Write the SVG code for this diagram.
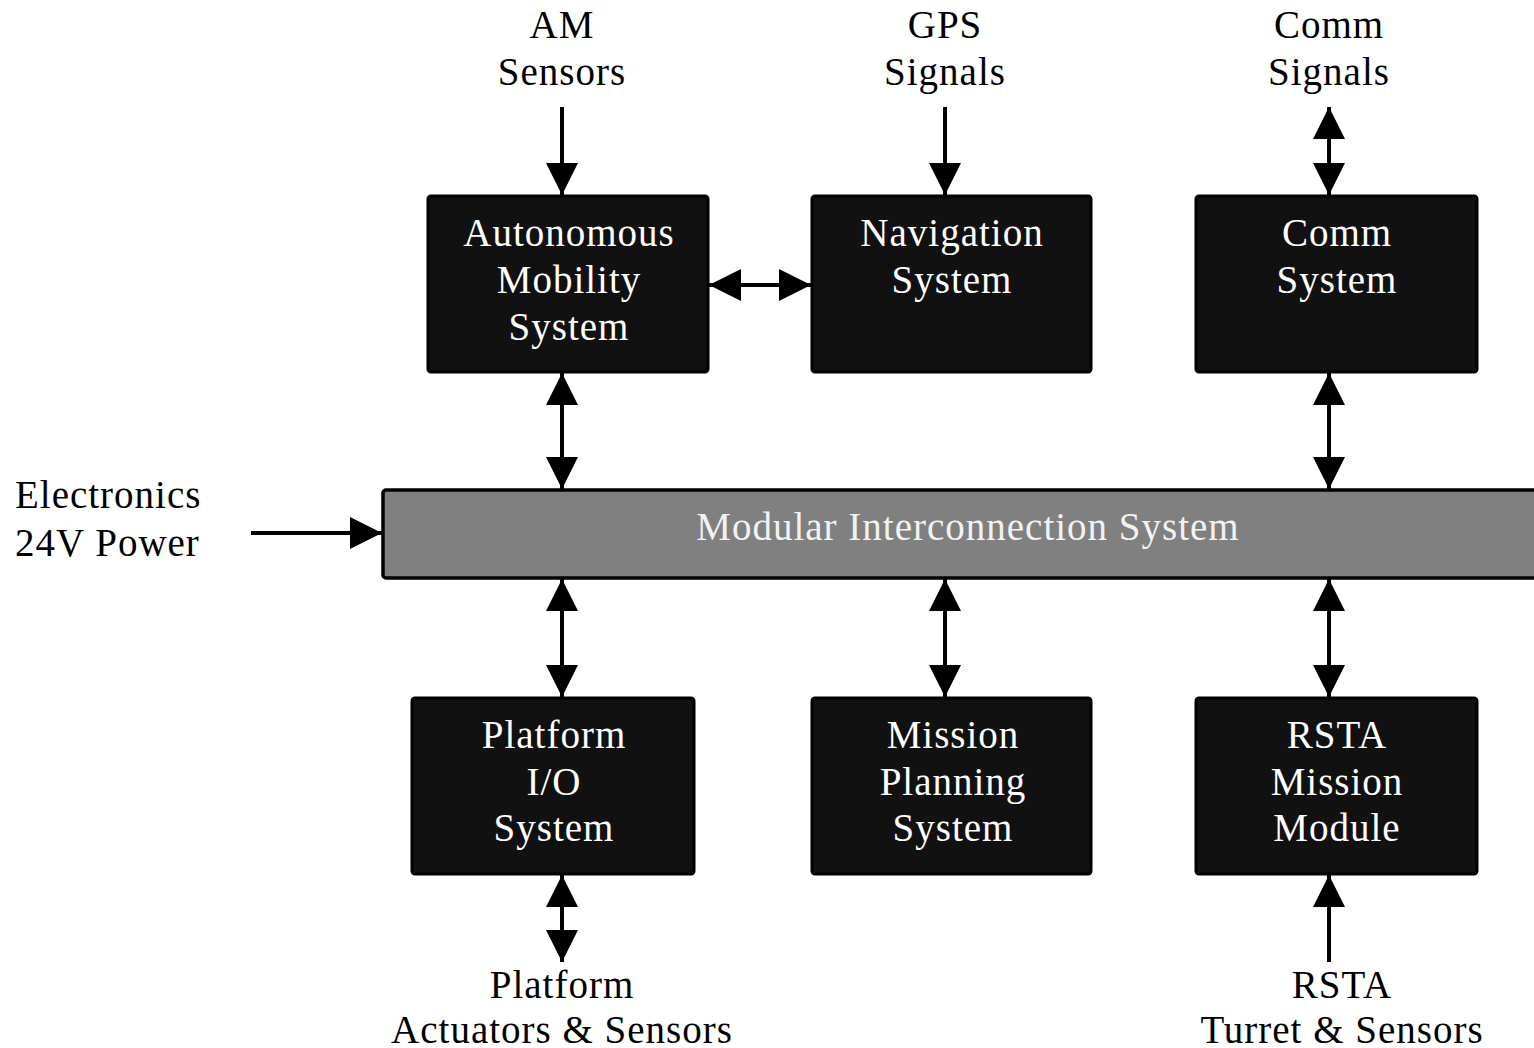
<svg xmlns="http://www.w3.org/2000/svg" width="1534" height="1048" viewBox="0 0 1534 1048">
<defs>
<marker id="ah" viewBox="0 0 32 32" markerWidth="32" markerHeight="32" markerUnits="userSpaceOnUse" refX="32" refY="16" orient="auto-start-reverse">
<path d="M0,0 L32,16 L0,32 z" fill="#000"/>
</marker>
<style>
.box{fill:#111;stroke:#000;stroke-width:3}
.bus{fill:#808080;stroke:#000;stroke-width:3.5}
.bt{font-family:"Liberation Serif","Times New Roman",serif;font-size:39px;letter-spacing:1px;fill:#fff;text-anchor:middle}
.lt{font-family:"Liberation Serif","Times New Roman",serif;font-size:39px;letter-spacing:1px;fill:#000;text-anchor:middle}
.ll{font-family:"Liberation Serif","Times New Roman",serif;font-size:39px;letter-spacing:1px;fill:#000}
.c{stroke:#000;stroke-width:4;fill:none}
.one{marker-end:url(#ah)}
.two{marker-start:url(#ah);marker-end:url(#ah)}
</style>
</defs>
<rect width="1534" height="1048" fill="#fff"/>

<g id="am-sensors"><text class="lt" x="562" y="38">AM</text><text class="lt" x="562" y="85">Sensors</text></g>
<g id="gps-signals"><text class="lt" x="945" y="38">GPS</text><text class="lt" x="945" y="85">Signals</text></g>
<g id="comm-signals"><text class="lt" x="1329" y="38">Comm</text><text class="lt" x="1329" y="85">Signals</text></g>

<g id="autonomous-mobility"><rect class="box" x="428" y="196" width="280" height="176" rx="3"/>
<text class="bt" x="569" y="246">Autonomous</text><text class="bt" x="569" y="293">Mobility</text><text class="bt" x="569" y="340">System</text></g>
<g id="navigation"><rect class="box" x="812" y="196" width="279" height="176" rx="3"/>
<text class="bt" x="952" y="246">Navigation</text><text class="bt" x="952" y="293">System</text></g>
<g id="comm-system"><rect class="box" x="1196" y="196" width="281" height="176" rx="3"/>
<text class="bt" x="1337" y="246">Comm</text><text class="bt" x="1337" y="293">System</text></g>

<g id="power"><text class="ll" x="15" y="508">Electronics</text><text class="ll" x="15" y="556">24V Power</text></g>

<g id="bus"><rect class="bus" x="383" y="490" width="1160" height="88" rx="3"/>
<text class="bt" x="968" y="540" style="fill:#f2f2f2">Modular Interconnection System</text></g>

<g id="platform-io"><rect class="box" x="412" y="698" width="282" height="176" rx="3"/>
<text class="bt" x="554" y="748">Platform</text><text class="bt" x="554" y="795">I/O</text><text class="bt" x="554" y="841">System</text></g>
<g id="mission-planning"><rect class="box" x="812" y="698" width="279" height="176" rx="3"/>
<text class="bt" x="953" y="748">Mission</text><text class="bt" x="953" y="795">Planning</text><text class="bt" x="953" y="841">System</text></g>
<g id="rsta-module"><rect class="box" x="1196" y="698" width="281" height="176" rx="3"/>
<text class="bt" x="1337" y="748">RSTA</text><text class="bt" x="1337" y="795">Mission</text><text class="bt" x="1337" y="841">Module</text></g>

<g id="platform-actuators"><text class="lt" x="562" y="998">Platform</text><text class="lt" x="562" y="1043">Actuators &amp; Sensors</text></g>
<g id="rsta-turret"><text class="lt" x="1342" y="998">RSTA</text><text class="lt" x="1342" y="1043">Turret &amp; Sensors</text></g>

<g id="connectors">
<line class="c one" x1="562" y1="107" x2="562" y2="195"/>
<line class="c one" x1="945" y1="107" x2="945" y2="195"/>
<line class="c two" x1="1329" y1="107" x2="1329" y2="195"/>
<line class="c two" x1="709" y1="285" x2="811" y2="285"/>
<line class="c two" x1="562" y1="373" x2="562" y2="489"/>
<line class="c two" x1="1329" y1="373" x2="1329" y2="489"/>
<line class="c one" x1="251" y1="533" x2="382" y2="533"/>
<line class="c two" x1="562" y1="579" x2="562" y2="697"/>
<line class="c two" x1="945" y1="579" x2="945" y2="697"/>
<line class="c two" x1="1329" y1="579" x2="1329" y2="697"/>
<line class="c two" x1="562" y1="875" x2="562" y2="962"/>
<line class="c one" x1="1329" y1="962" x2="1329" y2="875"/>
</g>
</svg>
